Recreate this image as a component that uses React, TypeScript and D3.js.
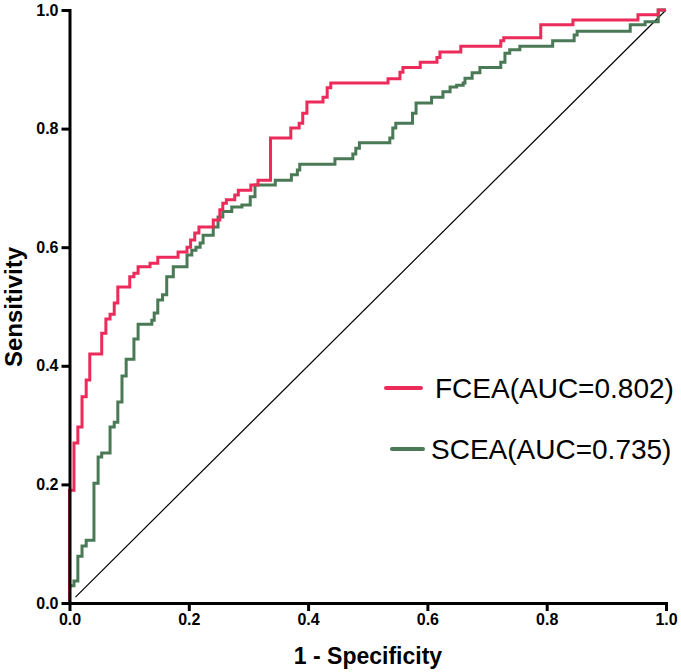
import React, { useEffect, useRef } from "react";
import * as d3 from "d3";

// FCEA ROC corner points (1 - specificity, sensitivity)
const fceaFpr = [0, 0, 0.0075, 0.014, 0.021, 0.028, 0.034, 0.054, 0.061, 0.068, 0.075, 0.081, 0.101, 0.108, 0.115, 0.135, 0.148, 0.182, 0.197, 0.203, 0.21, 0.217, 0.241, 0.252, 0.257, 0.263, 0.277, 0.283, 0.304, 0.316, 0.337, 0.371, 0.385, 0.391, 0.398, 0.425, 0.432, 0.438, 0.534, 0.554, 0.559, 0.588, 0.616, 0.621, 0.656, 0.723, 0.728, 0.79, 0.844, 0.953, 0.987, 1];
const fceaTpr = [0, 0.19, 0.27, 0.297, 0.348, 0.376, 0.42, 0.455, 0.479, 0.487, 0.506, 0.533, 0.55, 0.556, 0.567, 0.573, 0.583, 0.592, 0.6, 0.612, 0.624, 0.634, 0.646, 0.663, 0.674, 0.68, 0.688, 0.696, 0.705, 0.713, 0.784, 0.801, 0.809, 0.826, 0.845, 0.853, 0.869, 0.877, 0.884, 0.895, 0.903, 0.912, 0.92, 0.929, 0.939, 0.948, 0.953, 0.975, 0.983, 0.992, 1, 1];

// SCEA ROC corner points
const sceaFpr = [0, 0, 0.0075, 0.014, 0.021, 0.028, 0.041, 0.048, 0.054, 0.068, 0.075, 0.081, 0.088, 0.095, 0.108, 0.115, 0.138, 0.142, 0.148, 0.156, 0.163, 0.174, 0.197, 0.205, 0.212, 0.219, 0.224, 0.241, 0.249, 0.257, 0.272, 0.289, 0.303, 0.311, 0.345, 0.372, 0.382, 0.386, 0.445, 0.475, 0.48, 0.486, 0.537, 0.542, 0.547, 0.575, 0.581, 0.607, 0.626, 0.638, 0.649, 0.66, 0.663, 0.675, 0.688, 0.723, 0.73, 0.738, 0.755, 0.81, 0.846, 0.851, 0.94, 0.965, 0.987, 1];
const sceaTpr = [0, 0.029, 0.037, 0.079, 0.096, 0.106, 0.202, 0.246, 0.253, 0.297, 0.305, 0.339, 0.383, 0.411, 0.445, 0.47, 0.477, 0.489, 0.511, 0.52, 0.55, 0.567, 0.587, 0.595, 0.6, 0.607, 0.62, 0.634, 0.651, 0.66, 0.668, 0.671, 0.685, 0.705, 0.713, 0.722, 0.73, 0.74, 0.749, 0.757, 0.767, 0.776, 0.784, 0.801, 0.809, 0.826, 0.843, 0.853, 0.862, 0.87, 0.873, 0.877, 0.885, 0.894, 0.903, 0.912, 0.927, 0.933, 0.939, 0.948, 0.958, 0.964, 0.975, 0.98, 1, 1];

const refX = [0.01, 1];
const refY = [0.01, 1];

const tickValues = [0, 0.2, 0.4, 0.6, 0.8, 1.0];
const seriesNames = ["FCEA(AUC=0.802)", "SCEA(AUC=0.735)"];
const seriesColors = ["#EC2B5B", "#4A7A55"];

const W = 681;
const H = 672;
const x = d3.scaleLinear().domain([0, 1]).range([69.5, 666]);
const y = d3.scaleLinear().domain([0, 1]).range([603, 10]);

export default function App() {
  const xAxisRef = useRef<SVGGElement>(null);
  const yAxisRef = useRef<SVGGElement>(null);

  useEffect(() => {
    const fmt = d3.format(".1f");
    const xa = d3.select(xAxisRef.current!);
    xa.call(
      d3.axisBottom(x).tickValues(tickValues).tickFormat((d: any) => fmt(d)).tickSizeInner(8).tickSizeOuter(0).tickPadding(3) as any
    );
    const ya = d3.select(yAxisRef.current!);
    ya.call(
      d3.axisLeft(y).tickValues(tickValues).tickFormat((d: any) => fmt(d)).tickSizeInner(8).tickSizeOuter(0).tickPadding(3) as any
    );
    [xa, ya].forEach((g) => {
      g.select(".domain").attr("stroke", "#000").attr("stroke-width", 3).attr("stroke-linecap", "square");
      g.selectAll(".tick line").attr("stroke", "#000").attr("stroke-width", 3);
      g.selectAll(".tick text")
        .attr("fill", "#000")
        .attr("font-family", "Liberation Sans, Arial, sans-serif")
        .attr("font-weight", "bold")
        .attr("font-size", 16);
    });
  }, []);

  const mk = (xs: number[], ys: number[]) =>
    d3
      .line<number>()
      .x((_, i) => x(xs[i]))
      .y((_, i) => y(ys[i]))
      .curve(d3.curveStepAfter)(xs);

  const refPath = d3
    .line<number>()
    .x((_, i) => x(refX[i]))
    .y((_, i) => y(refY[i]))(refX);

  return (
    <svg width={W} height={H} style={{ position: "absolute", left: 0, top: 0, background: "#fff" }}
      fontFamily="Liberation Sans, Arial, sans-serif">
      <rect x={0} y={0} width={W} height={H} fill="#fff" />
      <path d={refPath || ""} stroke="#000" strokeWidth={1.2} fill="none" />
      <path d={mk(sceaFpr, sceaTpr) || ""} stroke={seriesColors[1]} strokeWidth={3} fill="none" />
      <path d={mk(fceaFpr, fceaTpr) || ""} stroke={seriesColors[0]} strokeWidth={3} fill="none" />
      <g ref={xAxisRef} transform={`translate(0,${y(0)})`} />
      <g ref={yAxisRef} transform={`translate(${x(0)},0)`} />
      <text x={368} y={664} textAnchor="middle" fontWeight="bold" fontSize={23} fill="#000">1 - Specificity</text>
      <text transform="translate(22,307) rotate(-90)" textAnchor="middle" fontWeight="bold" fontSize={24} fill="#000">Sensitivity</text>
      <g>
        <line x1={386} x2={421} y1={388} y2={388} stroke={seriesColors[0]} strokeWidth={4} strokeLinecap="round" />
        <text x={435} y={398} fontSize={28} fill="#000">{seriesNames[0]}</text>
        <line x1={392} x2={423} y1={449} y2={449} stroke={seriesColors[1]} strokeWidth={4} strokeLinecap="round" />
        <text x={431} y={459} fontSize={28} fill="#000">{seriesNames[1]}</text>
      </g>
    </svg>
  );
}
